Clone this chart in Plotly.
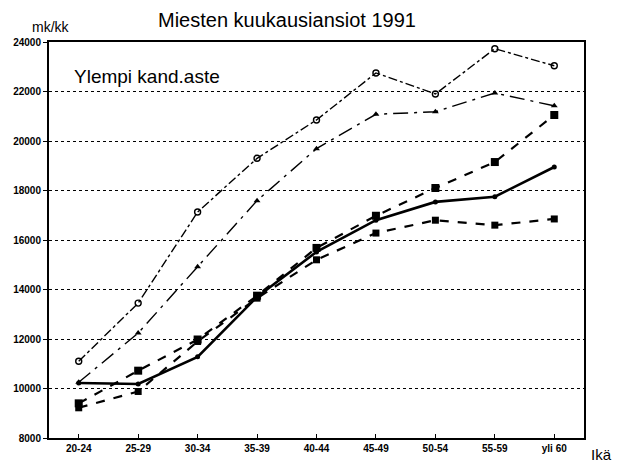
import plotly.graph_objects as go

# Age groups
ages = ["20-24", "25-29", "30-34", "35-39", "40-44", "45-49", "50-54", "55-59", "yli 60"]

# Monthly earnings (mk/kk) for five groups
s_top = [11100, 13450, 17130, 19300, 20850, 22750, 21900, 23730, 23040]
s_tri = [10250, 12240, 14920, 17590, 19690, 21080, 21180, 21940, 21420]
s_sq = [9400, 10720, 11980, 13750, 15680, 16980, 18100, 19150, 21050]
s_solid = [10220, 10180, 11280, 13700, 15520, 16800, 17540, 17750, 18950]
s_low = [9220, 9880, 11900, 13650, 15200, 16280, 16800, 16600, 16850]

y_ticks = list(range(8000, 24001, 2000))

fig = go.Figure()

fig.add_trace(go.Scatter(
    x=ages, y=s_top, mode="lines+markers",
    line=dict(color="black", width=1.4, dash="dashdot"),
    marker=dict(symbol="circle-open", size=6, color="black", line=dict(width=1.4)),
))
fig.add_trace(go.Scatter(
    x=ages, y=s_tri, mode="lines+markers",
    line=dict(color="black", width=1.4, dash="longdashdot"),
    marker=dict(symbol="triangle-up", size=6, color="black"),
))
fig.add_trace(go.Scatter(
    x=ages, y=s_sq, mode="lines+markers",
    line=dict(color="black", width=2.2, dash="dash"),
    marker=dict(symbol="square", size=8, color="black"),
))
fig.add_trace(go.Scatter(
    x=ages, y=s_solid, mode="lines+markers",
    line=dict(color="black", width=2.6),
    marker=dict(symbol="circle", size=5, color="black"),
))
fig.add_trace(go.Scatter(
    x=ages, y=s_low, mode="lines+markers",
    line=dict(color="black", width=2.2, dash="dash"),
    marker=dict(symbol="square", size=7, color="black"),
))

font_main = "Liberation Sans, Arial, sans-serif"

W, H = 617, 469
ML, MR, MT, MB = 49, 33, 42, 31
pw, ph = W - ML - MR, H - MT - MB


def px_note(text, px, py, size):
    # free text placed by page pixel position
    return dict(text=text, showarrow=False, font=dict(size=size, family=font_main, color="black"),
                xref="paper", yref="paper",
                x=(px - ML) / pw, y=(H - MB - py) / ph,
                xanchor="center", yanchor="middle")


fig.update_layout(
    width=W, height=H,
    margin=dict(l=ML, r=MR, t=MT, b=MB),
    paper_bgcolor="white", plot_bgcolor="white",
    showlegend=False,
    font=dict(family=font_main, color="black"),
    xaxis=dict(
        type="category", range=[-0.5, 8.5],
        showline=True, linecolor="black", linewidth=2, mirror=True,
        ticks="inside", ticklen=4, tickcolor="black",
        tickfont=dict(size=10, family=font_main),
        showgrid=False, zeroline=False,
    ),
    yaxis=dict(
        range=[8000, 24000], tickvals=y_ticks,
        ticktext=["<b>%d</b>" % v for v in y_ticks],
        showline=True, linecolor="black", linewidth=2, mirror=True,
        ticks="outside", ticklen=4, tickcolor="black",
        tickfont=dict(size=10, family=font_main),
        showgrid=True, gridcolor="black", gridwidth=1.3, griddash="dot",
        zeroline=False,
    ),
    annotations=[
        px_note("Miesten kuukausiansiot 1991", 287, 20, 20),
        px_note("mk/kk", 51, 27, 14),
        px_note("Ylempi kand.aste", 147, 76, 19),
        px_note("Ikä", 601, 455, 15),
    ],
)

fig.update_xaxes(ticktext=["<b>%s</b>" % a for a in ages], tickvals=ages)

fig.write_html("out.html")
